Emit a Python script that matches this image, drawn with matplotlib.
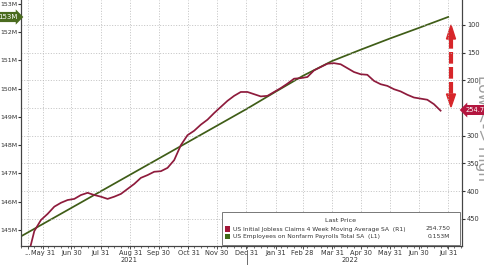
import matplotlib
matplotlib.use("Agg")
import matplotlib.pyplot as plt
import matplotlib.dates as mdates
from matplotlib.patches import Rectangle, FancyArrow
import pandas as pd

# ---------------- data ----------------
payroll_dates = ["2021-04-30", "2021-05-31", "2021-06-30", "2021-07-31", "2021-08-31",
                 "2021-09-30", "2021-10-31", "2021-11-30", "2021-12-31", "2022-01-31",
                 "2022-02-28", "2022-03-31", "2022-04-30", "2022-05-31", "2022-06-30",
                 "2022-07-31"]
payroll_values = [144.62, 145.21, 145.78, 146.37, 146.96, 147.53, 148.12, 148.69,
                  149.28, 149.90, 150.45, 150.98, 151.38, 151.78, 152.15, 152.54]

claims_start = "2021-05-15"
claims_values = [520, 472, 452, 441, 428, 421, 416, 414, 407, 403, 407, 410, 414, 410,
                 405, 396, 387, 376, 371, 365, 364, 358, 344, 317, 299, 291, 280, 271,
                 259, 248, 237, 228, 221, 221, 225, 229, 228, 221, 214, 206, 197, 196,
                 194, 182, 176, 170, 169, 171, 178, 185, 189, 190, 201, 207, 210, 216,
                 220, 226, 231, 233, 235, 243, 254.75]

tick_dates = ["2021-05-15", "2021-05-31", "2021-06-30", "2021-07-31", "2021-08-31",
              "2021-09-30", "2021-10-31", "2021-11-30", "2021-12-31", "2022-01-31",
              "2022-02-28", "2022-03-31", "2022-04-30", "2022-05-31", "2022-06-30",
              "2022-07-31"]
tick_labels = ["...", "May 31", "Jun 30", "Jul 31", "Aug 31", "Sep 30", "Oct 31",
               "Nov 30", "Dec 31", "Jan 31", "Feb 28", "Mar 31", "Apr 30", "May 31",
               "Jun 30", "Jul 31"]

left_ticks = [145, 146, 147, 148, 149, 150, 151, 152, 153]
left_labels = ["145M", "146M", "147M", "148M", "149M", "150M", "151M", "152M", "153M"]
right_ticks = [100, 150, 200, 250, 300, 350, 400, 450]

claims_name = "US Initial Jobless Claims 4 Week Moving Average SA  (R1)"
payroll_name = "US Employees on Nonfarm Payrolls Total SA  (L1)"
claims_last = "254.750"
payroll_last = "0.153M"

# ---------------- styling ----------------
RED = "#8e1b3c"
GREEN = "#3f5d17"
TXT = "#333333"
GRID = "#b8b8b8"

W, H = 485, 265
fig = plt.figure(figsize=(W / 100, H / 100), dpi=100)
fig.patch.set_facecolor("white")

def fx(x):
    return x / W

def fy(y):
    return 1 - y / H

ax = fig.add_axes([fx(21), fy(246), fx(462) - fx(21), fy(0) - fy(246)])
ax2 = ax.twinx()

pdates = pd.to_datetime(payroll_dates)
cdates = pd.date_range(claims_start, periods=len(claims_values), freq="7D")
tdates = pd.to_datetime(tick_dates)

ax.plot(pdates, payroll_values, color=GREEN, lw=1.25, zorder=3)
ax2.plot(cdates, claims_values, color=RED, lw=1.25, zorder=3)

ax.set_xlim(pd.Timestamp("2021-05-08"), pd.Timestamp("2022-08-14 12:00"))
ax.set_ylim(144.43, 153.14)
ax2.set_ylim(499, 55)

# x ticks
ax.set_xticks(tdates)
ax.set_xticklabels(tick_labels)
ax.xaxis.set_minor_locator(mdates.WeekdayLocator(byweekday=mdates.SA))
ax.tick_params(axis="x", which="major", length=2, width=0.6, pad=0.8,
               labelsize=4.8, labelcolor=TXT, color=TXT)
ax.tick_params(axis="x", which="minor", length=1.2, width=0.5, color=TXT)

# left y ticks
ax.set_yticks(left_ticks)
ax.set_yticklabels(left_labels)
ax.tick_params(axis="y", length=2, width=0.8, pad=0.6, labelsize=4.5,
               labelcolor=TXT, color=TXT)

# right y ticks
ax2.set_yticks(right_ticks)
ax2.tick_params(axis="y", length=2, width=0.8, pad=1.5, labelsize=4.8,
                labelcolor=TXT, color=TXT)

for a in (ax, ax2):
    a.spines["top"].set_visible(False)
    for s in ("left", "right", "bottom"):
        a.spines[s].set_color("#444444")
        a.spines[s].set_linewidth(0.8)

# gridlines: vertical at month ticks, horizontal at right-axis ticks
ax.grid(axis="x", which="major", color=GRID, lw=0.6, ls=(0, (1.2, 2)))
ax2.grid(axis="y", color=GRID, lw=0.6, ls=(0, (1.2, 2)))
ax.set_zorder(2)
ax2.set_zorder(3)
ax.patch.set_visible(False)

# year labels + separator
fig.text(fx(129), fy(259.5), "2021", ha="center", va="center", fontsize=4.8, color=TXT)
fig.text(fx(350), fy(259.5), "2022", ha="center", va="center", fontsize=4.8, color=TXT)
fig.add_artist(plt.Line2D([fx(247), fx(247)], [fy(250), fy(265)], color="#555555", lw=0.6))

# Low <-> High annotation (partly cut by the right edge, as in the original)
fig.text(fx(483), fy(128), "Low <-> High", rotation=-90, ha="center", va="center",
         fontsize=11, color="#9e9e9e", zorder=1)

# last value tags
fig.text(fx(8), fy(17), "153M", ha="center", va="center", fontsize=5, color="white",
         bbox=dict(boxstyle="rarrow,pad=0.3", fc="#4a6b1f", ec="none"), zorder=20)
fig.text(fx(477), fy(110), "254.75", ha="center", va="center", fontsize=4.8, color="white",
         bbox=dict(boxstyle="larrow,pad=0.3", fc="#b3163f", ec="none"), zorder=20)

# red dashed double arrow
ARROW = "#d7262a"
ax_x = fx(451)
fig.add_artist(plt.Line2D([ax_x, ax_x], [fy(37), fy(96)], color=ARROW, lw=3.0,
                          ls=(0, (2.8, 0.8)), solid_capstyle="butt", dash_capstyle="butt"))
fig.add_artist(FancyArrow(ax_x, fy(39), 0, fy(25) - fy(39), width=0.0,
                          head_width=fx(9), head_length=fy(25) - fy(39),
                          length_includes_head=True, color=ARROW, transform=fig.transFigure))
fig.add_artist(FancyArrow(ax_x, fy(94), 0, fy(107) - fy(94), width=0.0,
                          head_width=fx(9), head_length=fy(94) - fy(107),
                          length_includes_head=True, color=ARROW, transform=fig.transFigure))

# legend box
lx0, lx1, ly0, ly1 = 222, 460, 212, 245
fig.add_artist(Rectangle((fx(lx0), fy(ly1)), fx(lx1) - fx(lx0), fy(ly0) - fy(ly1),
                         transform=fig.transFigure, fc="white", ec="#777777", lw=0.7,
                         zorder=10))
fig.text(fx(341), fy(220.5), "Last Price", ha="center", va="center", fontsize=4.6,
         color=TXT, zorder=11)
for yy, col, name, val in [(229, "#a3173a", claims_name, claims_last),
                           (236.5, "#3f6b17", payroll_name, payroll_last)]:
    fig.add_artist(Rectangle((fx(225), fy(yy + 2.8)), fx(5), fy(0) - fy(5.6),
                             transform=fig.transFigure, fc=col, ec="none", zorder=11))
    fig.text(fx(233), fy(yy), name, ha="left", va="center", fontsize=4.3,
             color=TXT, zorder=11)
    fig.text(fx(450), fy(yy), val, ha="right", va="center", fontsize=4.3,
             color=TXT, zorder=11)

fig.savefig("out.png", dpi=100)
